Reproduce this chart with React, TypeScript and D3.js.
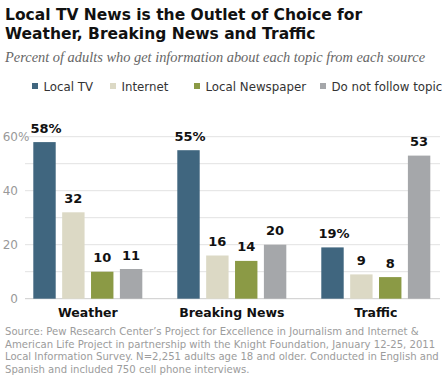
import React from 'react';
import * as d3 from 'd3';

const width = 445;
const height = 384;

const topics = ['Weather', 'Breaking News', 'Traffic'];
const sources = ['Local TV', 'Internet', 'Local Newspaper', 'Do not follow topic'];
const localTV = [58, 55, 19];
const internet = [32, 16, 9];
const newspaper = [10, 14, 8];
const notFollow = [11, 20, 53];
const yTicks = [0, 20, 40, 60];
const gridTicks = [0, 10, 20, 30, 40, 50, 60];
const sourceLines = [
  'Source: Pew Research Center\u2019s Project for Excellence in Journalism and Internet &',
  'American Life Project in partnership with the Knight Foundation, January 12-25, 2011',
  'Local Information Survey. N=2,251 adults age 18 and older. Conducted in English and',
  'Spanish and included 750 cell phone interviews.',
];

const colors = ['#40667f', '#dcd9c5', '#8b9a45', '#a5a7aa'];
const series = [localTV, internet, newspaper, notFollow];

const x0 = d3.scaleBand().domain(topics).range([33.3, 430.3]).paddingInner(0.243).paddingOuter(0);
const x1 = d3.scaleBand().domain(sources).range([0, x0.bandwidth()]).paddingInner(0.224);
const y = d3.scaleLinear().domain([0, 60]).range([298.7, 136.7]);

const sans = 'DejaVu Sans, Verdana, sans-serif';

export default function App() {
  // first bar of each group shows the % sign
  const bars = topics.flatMap((t, ti) =>
    sources.map((s, si) => ({ t, s, si, v: series[si][ti], pct: si === 0 }))
  );

  return (
    <svg width={width} height={height} style={{ position: 'absolute', left: 0, top: 0, background: '#fff' }}>
      <text x={5} y={20} fontFamily={sans} fontWeight="bold" fontSize={15.5} fill="#111">
        Local TV News is the Outlet of Choice for
      </text>
      <text x={5} y={39} fontFamily={sans} fontWeight="bold" fontSize={15.5} fill="#111">
        Weather, Breaking News and Traffic
      </text>
      <text x={5} y={62} fontFamily="Liberation Serif, Georgia, serif" fontStyle="italic" fontSize={14.4} fill="#666">
        Percent of adults who get information about each topic from each source
      </text>

      {/* legend */}
      {[32, 110, 194, 320].map((lx, i) => (
        <g key={sources[i]}>
          <rect x={lx} y={83} width={6} height={6} fill={colors[i]} />
          <text x={lx + 11.5} y={90.5} fontFamily={sans} fontSize={11.8} fill="#333">{sources[i]}</text>
        </g>
      ))}

      {/* grid */}
      {gridTicks.map(g => (
        <line key={g} x1={25} x2={440} y1={y(g)} y2={y(g)} stroke={g === 0 ? '#ccc' : '#e2e2e2'} strokeWidth={1} />
      ))}
      {yTicks.map(t => (
        <g key={t}>
          <text x={18} y={y(t) + 4} textAnchor="end" fontFamily={sans} fontSize={12} fill="#999">{t}</text>
          {t === 60 ? (
            <text x={18} y={y(t) + 4} fontFamily={sans} fontSize={12} fill="#999">%</text>
          ) : null}
        </g>
      ))}

      {bars.map(b => {
        const bx = x0(b.t)! + x1(b.s)!;
        const cx = bx + x1.bandwidth() / 2;
        return (
          <g key={b.t + b.s}>
            <rect x={bx} y={y(b.v)} width={x1.bandwidth()} height={y(0) - y(b.v)} fill={colors[b.si]} />
            <text x={cx + (b.pct ? 1.5 : 0)} y={y(b.v) - 9.5} textAnchor="middle" fontFamily={sans}
              fontWeight="bold" fontSize={13} fill="#111">
              {b.v}{b.pct ? '%' : ''}
            </text>
          </g>
        );
      })}

      {topics.map(t => (
        <text key={t} x={x0(t)! + x0.bandwidth() / 2} y={317} textAnchor="middle" fontFamily={sans}
          fontWeight="bold" fontSize={12.5} fill="#111">
          {t}
        </text>
      ))}

      {sourceLines.map((l, i) => (
        <text key={i} x={5} y={335 + i * 12.5} fontFamily={sans} fontSize={10.1} fill="#9c9c9c">
          {l}
        </text>
      ))}
    </svg>
  );
}
